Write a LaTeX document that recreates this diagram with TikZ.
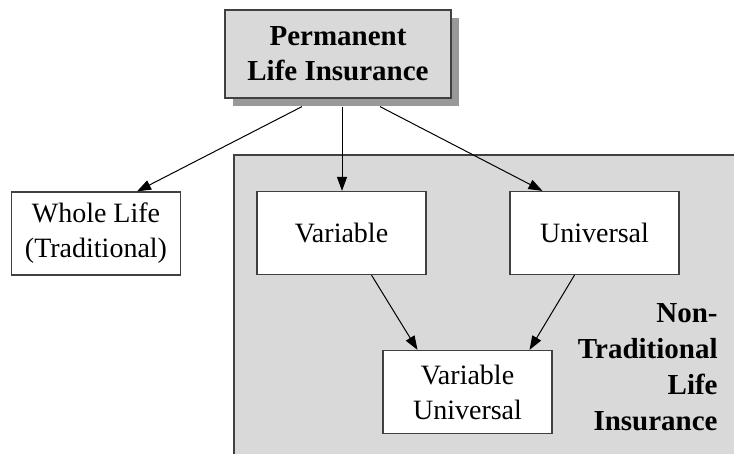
\documentclass[tikz,border=0pt]{standalone}
\usepackage{fontspec}
\setmainfont{Liberation Serif}
\usetikzlibrary{arrows.meta,shadows}
\tikzstyle{box}=[draw=black!75,fill=white,line width=0.6pt,minimum width=84.5pt,minimum height=41.5pt,align=center,inner sep=0pt,font=\fontsize{14}{17.5}\selectfont]
\tikzstyle{arr}=[-{Triangle[length=7pt,width=5pt]},line width=0.5pt]

\begin{document}
\begin{tikzpicture}[x=0.5pt,y=-0.5pt]
	\clip (0,0) rectangle (734,454);
	\fill[white] (0,0) rectangle (734,454);
	\draw[draw=black!75,fill=black!15,line width=0.6pt] (234,155) rectangle (760,480);
	\node[box,fill=black!15,minimum width=113pt,minimum height=44pt,font=\fontsize{14.5}{17.5}\selectfont\bfseries,drop shadow={shadow xshift=4pt,shadow yshift=-4pt,fill=black!40,opacity=1}] (perm) at (338,54) {Permanent\\Life Insurance};
	\node[box] (whole) at (96,233.5) {Whole Life\\(Traditional)};
	\node[box] (var) at (341.5,233) {Variable};
	\node[box] (univ) at (594.5,233) {Universal};
	\node[box] (vu) at (467.5,392) {Variable\\Universal};
	\node[anchor=east,align=right,inner sep=0pt,font=\fontsize{14.5}{18}\selectfont\bfseries] (nontrad) at (718,367) {Non-\\Traditional\\Life\\Insurance};
	\draw[arr] ([xshift=-18pt,yshift=-4pt]perm.south) -- ([xshift=20.5pt]whole.north);
	\draw[arr] ([xshift=2pt,yshift=-4pt]perm.south) -- ([xshift=0.25pt]var.north);
	\draw[arr] ([xshift=21pt,yshift=-4pt]perm.south) -- ([xshift=-26pt]univ.north);
	\draw[arr] ([xshift=15pt]var.south) -- ([xshift=-25pt]vu.north);
	\draw[arr] ([xshift=-10pt]univ.south) -- ([xshift=31pt]vu.north);
\end{tikzpicture}
\end{document}
